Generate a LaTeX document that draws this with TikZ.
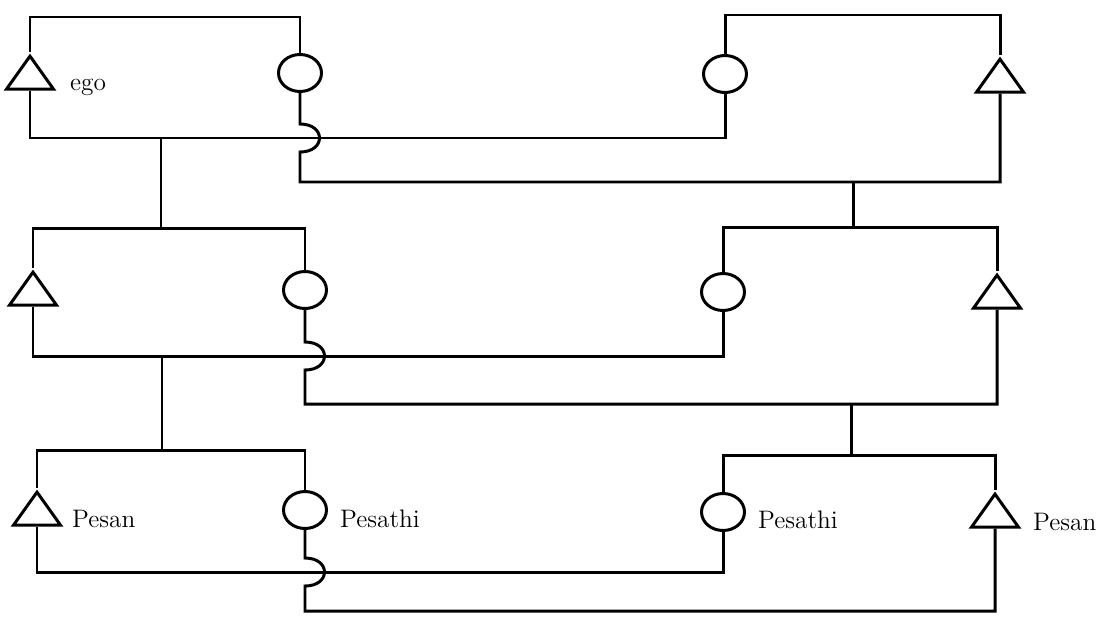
\documentclass[tikz,border=0pt]{standalone}
\usetikzlibrary{shapes.geometric}
\tikzset{
  male/.style={draw, isosceles triangle, shape border rotate=90,
    isosceles triangle stretches, minimum width=9.4mm, minimum height=6.6mm,
    inner sep=0pt, line width=1.7pt},
  female/.style={draw, ellipse, minimum width=8.6mm, minimum height=7.4mm,
    inner sep=0pt, line width=1.7pt},
  kin/.style={line width=1.7pt},
  kinlabel/.style={anchor=base west, font=\Large}
}
\begin{document}
\begin{tikzpicture}[x=0.02cm, y=-0.02cm]
  \useasboundingbox (0,0) rectangle (1108,616);
  % first generation
  \node[male] (m1) at (30,77) {};
  \node[female] (f1) at (300,73) {};
  \node[female] (f2) at (725,74) {};
  \node[male] (m2) at (1000,80) {};
  \node[kinlabel] (l1) at (64,90) {ego};
  \draw[kin] (m1.apex) -- (m1 |- 0,17) -| (f1.north);
  \draw[kin] (f2.north) -- (f2 |- 0,15) -| (m2.apex);
  \draw[kin] (m1.south) -- (m1 |- 0,138) -| (f2.south);
  \draw[kin] (f1.south) -- (f1 |- 0,124) .. controls +(26,0) and +(26,0) .. (f1 |- 0,152)
    -- (f1 |- 0,182) -| (m2.south);
  % second generation
  \node[male] (m3) at (33,293) {};
  \node[female] (f3) at (305,290) {};
  \node[female] (f4) at (723,292) {};
  \node[male] (m4) at (997,296) {};
  \draw[kin] (161,138) -- (161,228);
  \draw[kin] (853,182) -- (853,227);
  \draw[kin] (m3.apex) -- (m3 |- 0,228) -| (f3.north);
  \draw[kin] (f4.north) -- (f4 |- 0,227) -| (m4.apex);
  \draw[kin] (m3.south) -- (m3 |- 0,356) -| (f4.south);
  \draw[kin] (f3.south) -- (f3 |- 0,342) .. controls +(26,0) and +(26,0) .. (f3 |- 0,370)
    -- (f3 |- 0,404) -| (m4.south);
  % third generation
  \node[male] (m5) at (37,513) {};
  \node[female] (f5) at (305,510) {};
  \node[female] (f6) at (723,512) {};
  \node[male] (m6) at (995,515) {};
  \node[kinlabel] (l2) at (66,527) {Pesan};
  \node[kinlabel] (l3) at (334,527) {Pesathi};
  \node[kinlabel] (l4) at (752,528) {Pesathi};
  \node[kinlabel] (l5) at (1027,530) {Pesan};
  \draw[kin] (162,356) -- (162,450);
  \draw[kin] (851,404) -- (851,455);
  \draw[kin] (m5.apex) -- (m5 |- 0,450) -| (f5.north);
  \draw[kin] (f6.north) -- (f6 |- 0,455) -| (m6.apex);
  \draw[kin] (m5.south) -- (m5 |- 0,572) -| (f6.south);
  \draw[kin] (f5.south) -- (f5 |- 0,558) .. controls +(26,0) and +(26,0) .. (f5 |- 0,586)
    -- (f5 |- 0,611) -| (m6.south);
\end{tikzpicture}
\end{document}
